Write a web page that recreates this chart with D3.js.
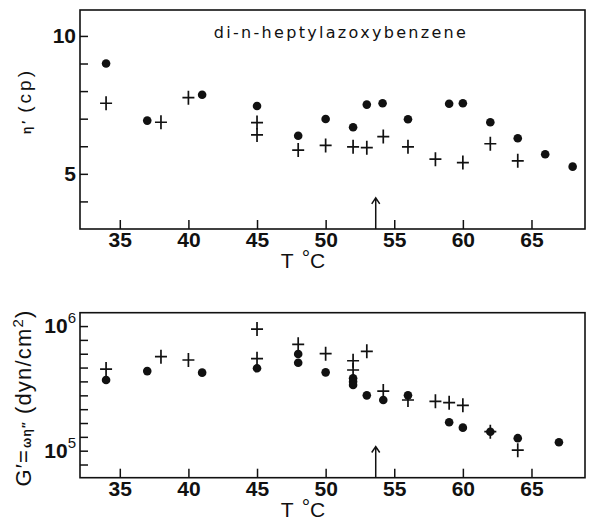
<!DOCTYPE html>
<html>
<head>
<meta charset="utf-8">
<script src="https://cdn.jsdelivr.net/npm/d3@7"></script>
<style>
  body { margin: 0; background: #fff; }
  svg { display: block; }
  .tick text { font-family: "Liberation Sans", Arial, sans-serif; font-weight: bold; font-size: 21px; fill: #111; }
  .tick line { stroke: #111; stroke-width: 1.5; }
</style>
</head>
<body>
<svg id="chart"></svg>
<script>
// Temperature ticks (shared by both panels)
const tempTicks = [35, 40, 45, 50, 55, 60, 65];

// Top panel: eta' (cp)
const visCircT = [34, 37, 41, 45, 48, 50, 52, 53, 54.15, 56, 59, 60, 62, 64, 66, 68];
const visCirc  = [9.0, 6.93, 7.87, 7.46, 6.38, 6.99, 6.69, 7.51, 7.56, 6.98, 7.54, 7.56, 6.87, 6.29, 5.71, 5.26];
const visCrossT = [34, 38, 40, 45, 45, 48, 50, 52, 53, 54.2, 56, 58, 60, 62, 64];
const visCross  = [7.56, 6.87, 7.76, 6.86, 6.41, 5.86, 6.03, 5.98, 5.95, 6.35, 5.98, 5.53, 5.41, 6.09, 5.47];
const visTicks = [4, 5, 6, 7, 8, 9, 10];
const visLabels = [5, 10];

// Bottom panel: G' = omega eta'' (dyn/cm2)
const modCircT = [34, 37, 41, 45, 48, 48, 50, 52, 52, 52, 53, 54.2, 56, 59, 60, 62, 64, 67];
const modCirc  = [3.69e5, 4.35e5, 4.23e5, 4.58e5, 5.96e5, 5.08e5, 4.25e5, 3.81e5, 3.58e5, 3.37e5, 2.78e5, 2.55e5, 2.78e5, 1.69e5, 1.53e5, 1.42e5, 1.26e5, 1.17e5];
const modCrossT = [34, 38, 40, 45, 45, 48, 50, 52, 52, 53, 54.2, 56, 58, 59, 60, 62, 64];
const modCross  = [4.52e5, 5.68e5, 5.34e5, 9.46e5, 5.47e5, 7.13e5, 6.0e5, 5.27e5, 4.44e5, 6.27e5, 3.01e5, 2.55e5, 2.49e5, 2.43e5, 2.31e5, 1.42e5, 1.01e5];
const modExpTicks = [4.889, 5, 5.111, 5.222, 5.333, 5.444, 5.556, 5.667, 5.778, 5.889, 6];
const modLabels = [5, 6];

// transition temperature arrow
const arrowT = 53.65;

const width = 592, height = 525;
const svg = d3.select("#chart").attr("width", width).attr("height", height);

const x = d3.scaleLinear().domain([32.1, 68.9]).range([80, 585]);
const yTop = d3.scaleLinear().domain([3.0, 10.94]).range([229, 10]);
const yBot = d3.scaleLog().domain([6.07e4, 1.28e6]).range([477.7, 312.7]);

function frame(y) {
  const r = y.range();
  svg.append("rect")
    .attr("x", x.range()[0]).attr("y", r[1])
    .attr("width", x.range()[1] - x.range()[0]).attr("height", r[0] - r[1])
    .attr("fill", "none").attr("stroke", "#111").attr("stroke-width", 1.6);
}

function xAxis(y) {
  const g = svg.append("g")
    .attr("transform", `translate(0,${y.range()[0]})`)
    .call(d3.axisBottom(x).tickValues(tempTicks).tickSizeInner(-9).tickSizeOuter(0).tickPadding(3));
  g.select(".domain").remove();
}

function crosses(data, y) {
  svg.append("g").selectAll("path")
    .data(data)
    .enter().append("path")
    .attr("d", d => {
      const cx = x(d[0]), cy = y(d[1]);
      return `M${cx - 6},${cy}H${cx + 6}M${cx},${cy - 7}V${cy + 7}`;
    })
    .attr("stroke", "#111").attr("stroke-width", 1.7).attr("fill", "none");
}

function dots(data, y) {
  svg.append("g").selectAll("circle")
    .data(data)
    .enter().append("circle")
    .attr("cx", d => x(d[0]))
    .attr("cy", d => y(d[1]))
    .attr("r", 4.3)
    .attr("fill", "#111");
}

function arrow(y, v) {
  const ax = x(arrowT), y0 = y.range()[0], y1 = y(v);
  svg.append("path")
    .attr("d", `M${ax},${y0}V${y1}M${ax - 4},${y1 + 6}L${ax},${y1}L${ax + 4},${y1 + 6}`)
    .attr("stroke", "#111").attr("stroke-width", 1.5).attr("fill", "none");
}

function tempLabel(yPos) {
  svg.append("text")
    .attr("x", 303).attr("y", yPos)
    .attr("text-anchor", "middle")
    .style("font-family", "'Liberation Sans', Arial, sans-serif")
    .style("font-size", "21px")
    .attr("fill", "#111")
    .call(t => {
      t.append("tspan").text("T");
      t.append("tspan").attr("dx", 8).attr("dy", -3).text("°");
      t.append("tspan").attr("dy", 3).text("C");
    });
}

// ---- top panel ----
frame(yTop);
xAxis(yTop);
const gTop = svg.append("g")
  .attr("transform", `translate(${x.range()[0]},0)`)
  .call(d3.axisLeft(yTop).tickValues(visTicks).tickSizeInner(-8).tickSizeOuter(0).tickPadding(4)
    .tickFormat(d => visLabels.includes(d) ? d : ""));
gTop.select(".domain").remove();

dots(visCircT.map((t, i) => [t, visCirc[i]]), yTop);
crosses(visCrossT.map((t, i) => [t, visCross[i]]), yTop);
arrow(yTop, 4.13);

svg.append("text")
  .attr("x", 341).attr("y", 38)
  .attr("text-anchor", "middle")
  .style("font-family", "'DejaVu Sans', sans-serif")
  .style("font-size", "16px")
  .style("letter-spacing", "2.3px")
  .attr("fill", "#111")
  .text("di-n-heptylazoxybenzene");

svg.append("text")
  .attr("transform", "translate(31,101) rotate(-90)")
  .attr("text-anchor", "middle")
  .style("font-family", "'Liberation Sans', Arial, sans-serif")
  .style("font-size", "19px")
  .style("letter-spacing", "3px")
  .attr("fill", "#111")
  .call(t => {
    t.append("tspan").style("font-size", "12px").style("font-weight", "bold").text("η′");
    t.append("tspan").attr("dx", 5).text("(cp)");
  });

tempLabel(268);

// ---- bottom panel ----
frame(yBot);
xAxis(yBot);
const gBot = svg.append("g")
  .attr("transform", `translate(${x.range()[0]},0)`)
  .call(d3.axisLeft(yBot).tickValues(modExpTicks.map(e => Math.pow(10, e)))
    .tickSizeInner(-8).tickSizeOuter(0).tickFormat(""));
gBot.select(".domain").remove();

svg.append("g").selectAll("text")
  .data(modLabels)
  .enter().append("text")
  .attr("x", x.range()[0] - 4)
  .attr("y", d => yBot(Math.pow(10, d)) + 7)
  .attr("text-anchor", "end")
  .style("font-family", "'Liberation Sans', Arial, sans-serif")
  .style("font-weight", "bold")
  .style("font-size", "21px")
  .attr("fill", "#111")
  .call(t => {
    t.append("tspan").text("10");
    t.append("tspan").attr("dy", -10).style("font-size", "15px").style("font-weight", "normal").text(d => d);
  });

dots(modCircT.map((t, i) => [t, modCirc[i]]), yBot);
crosses(modCrossT.map((t, i) => [t, modCross[i]]), yBot);
arrow(yBot, 1.08e5);

svg.append("text")
  .attr("transform", "translate(31,398) rotate(-90)")
  .attr("text-anchor", "middle")
  .style("font-family", "'Liberation Sans', Arial, sans-serif")
  .style("font-size", "22px")
  .style("letter-spacing", "1.2px")
  .attr("fill", "#111")
  .call(t => {
    t.append("tspan").text("G′=");
    t.append("tspan").style("font-size", "12px").style("font-weight", "bold").attr("dx", 1).text("ωη″");
    t.append("tspan").attr("dx", 7).text("(dyn/cm");
    t.append("tspan").attr("dy", -8).style("font-size", "15px").text("2");
    t.append("tspan").attr("dy", 8).text(")");
  });

tempLabel(517);
</script>
</body>
</html>
